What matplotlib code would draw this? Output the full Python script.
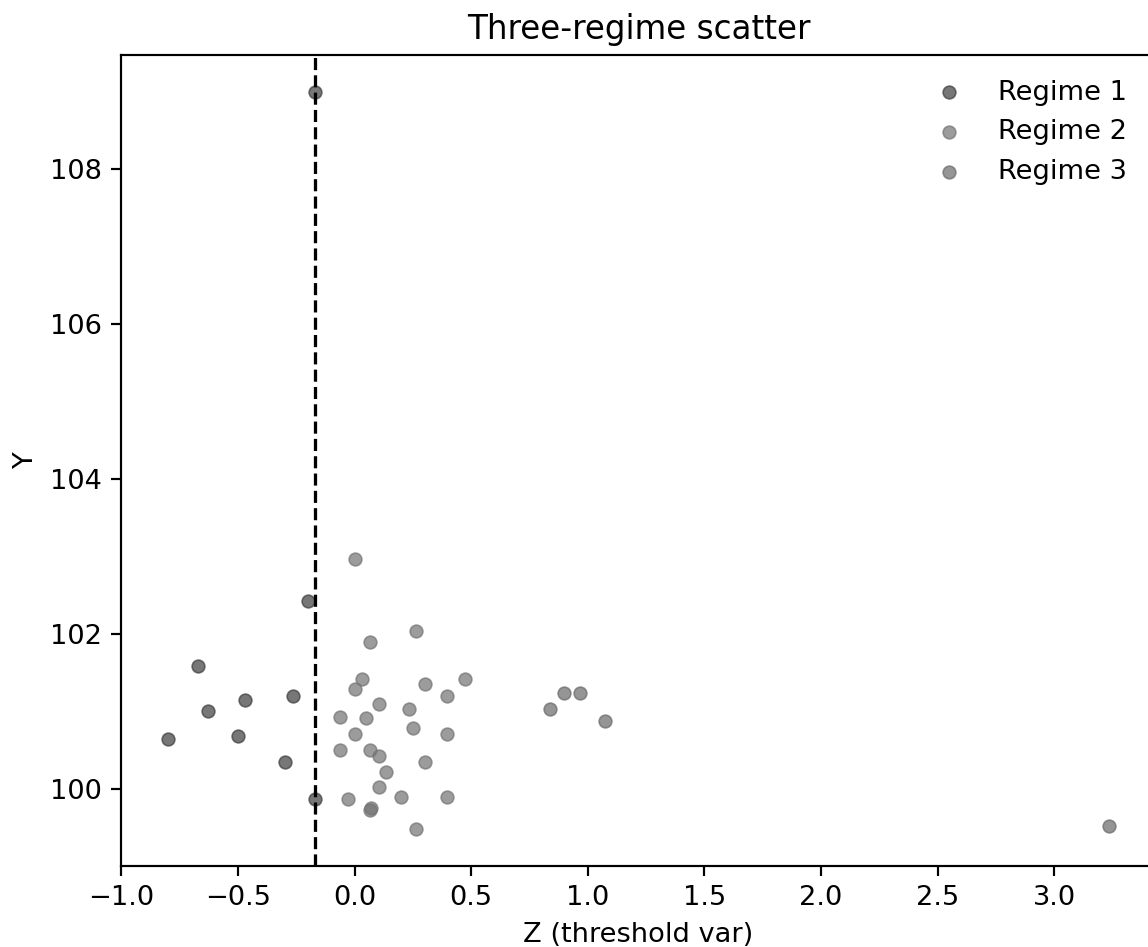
import matplotlib
matplotlib.use("Agg")
import matplotlib.pyplot as plt
import numpy as np

# threshold variable Z and response Y, split by regime
z_r1 = [-0.17, -0.20, -0.67, -0.263, -0.471, -0.629, -0.80, -0.502, -0.30, -0.168]
y_r1 = [108.99, 102.42, 101.59, 101.20, 101.15, 101.00, 100.64, 100.68, 100.35, 99.87]

z_r2 = [0.0, 0.265, 0.064, 0.033, 0.303, 0.472, 0.0, 0.398, 0.104, 0.234,
        -0.064, 0.048, 0.252, 0.0, 0.398, -0.064, 0.064, 0.104, 0.303, 0.135,
        0.104, -0.03, 0.20, 0.398, 0.064, 0.07, 0.265]
y_r2 = [102.96, 102.04, 101.89, 101.42, 101.35, 101.42, 101.29, 101.20, 101.10, 101.03,
        100.93, 100.91, 100.78, 100.71, 100.71, 100.50, 100.50, 100.43, 100.35, 100.22,
        100.02, 99.87, 99.90, 99.90, 99.73, 99.75, 99.48]

z_r3 = [0.838, 0.90, 0.966, 1.072, 3.235]
y_r3 = [101.03, 101.23, 101.23, 100.88, 99.52]

threshold = -0.17

fig = plt.figure(figsize=(1148 / 196, 947 / 196), dpi=196)
ax = fig.add_axes([0.1054, 0.0855, 0.9016, 0.8564])

ax.scatter(z_r1, y_r1, s=22, color='0.24', alpha=0.7, linewidths=0.6, label='Regime 1')
ax.scatter(z_r2, y_r2, s=22, color='0.45', alpha=0.7, linewidths=0.6, label='Regime 2')
ax.scatter(z_r3, y_r3, s=22, color='0.41', alpha=0.7, linewidths=0.6, label='Regime 3')
ax.axvline(threshold, color='black', linestyle='--', linewidth=1.2)

ax.set_title("Three-regime scatter")
ax.set_xlabel("Z (threshold var)")
ax.set_ylabel("Y")
ax.set_yticks([100, 102, 104, 106, 108])
ax.legend(loc='upper right', frameon=False, bbox_to_anchor=(0.996, 1.0))

fig.savefig("out.png", dpi=196)
